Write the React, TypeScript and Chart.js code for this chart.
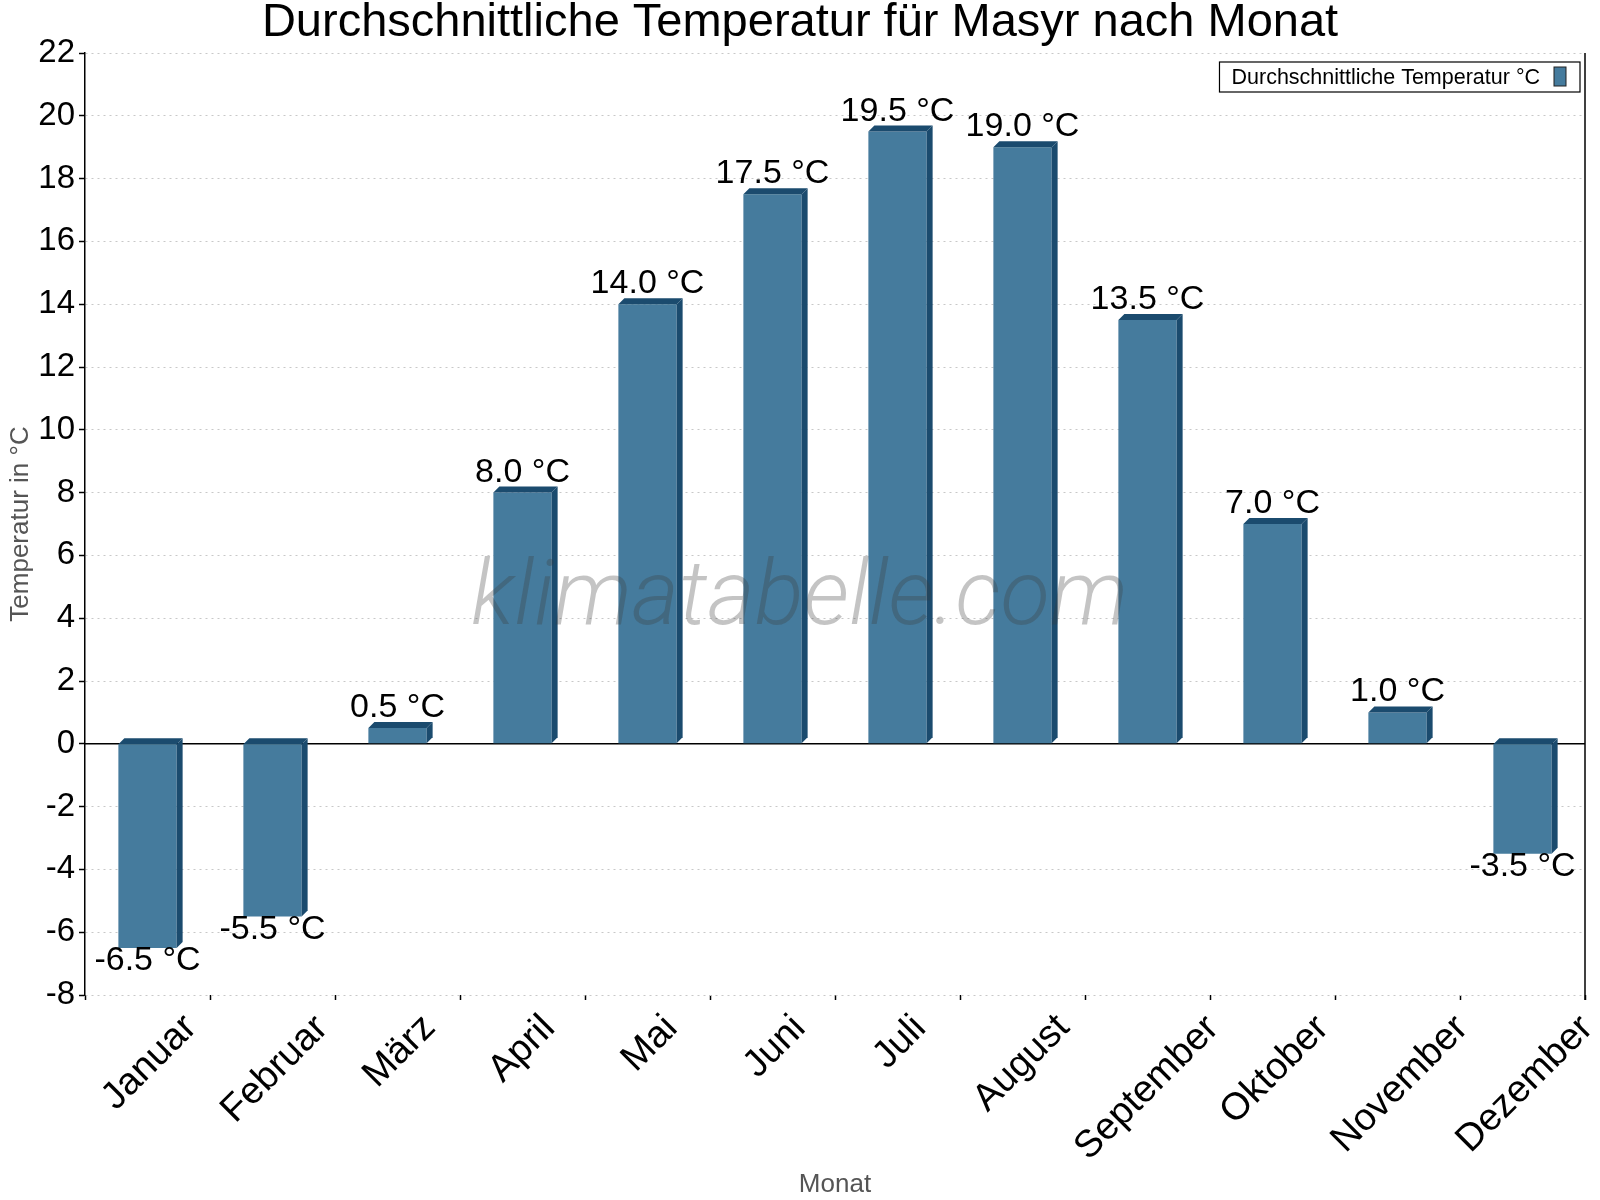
import { useEffect, useRef } from "react";
import { Chart, registerables } from "chart.js";
import type { ChartConfiguration, Plugin } from "chart.js";

Chart.register(...registerables);

const FONT = "'Liberation Sans', Arial, sans-serif";

const months = [
  "Januar",
  "Februar",
  "März",
  "April",
  "Mai",
  "Juni",
  "Juli",
  "August",
  "September",
  "Oktober",
  "November",
  "Dezember",
];
const temperatures = [-6.5, -5.5, 0.5, 8.0, 14.0, 17.5, 19.5, 19.0, 13.5, 7.0, 1.0, -3.5];
const yMin = -8;
const yMax = 22;
const yStep = 2;

const seriesLabel = "Durchschnittliche Temperatur °C";
const frontColor = "#457b9d";
const darkColor = "#1b4b6e";

// 3D bar sides, zero line, value labels, month labels, legend box, watermark
const decorations: Plugin<"bar"> = {
  id: "decorations",
  beforeDatasetsDraw(chart) {
    const { ctx, chartArea, scales } = chart;
    const y0 = scales.y.getPixelForValue(0);
    ctx.save();
    ctx.strokeStyle = "#000";
    ctx.lineWidth = 1.5;
    ctx.beginPath();
    ctx.moveTo(chartArea.left, y0);
    ctx.lineTo(chartArea.right, y0);
    ctx.stroke();
    // right frame line
    ctx.beginPath();
    ctx.moveTo(chartArea.right, chartArea.top);
    ctx.lineTo(chartArea.right, chartArea.bottom + 5);
    ctx.stroke();
    ctx.restore();
  },
  afterDatasetsDraw(chart) {
    const { ctx, chartArea, scales } = chart;
    const meta = chart.getDatasetMeta(0);
    const d = 6;
    ctx.save();
    meta.data.forEach((el, i) => {
      const { x, y, base, width } = el.getProps(["x", "y", "base", "width"], true) as any;
      const left = x - width / 2;
      const right = x + width / 2;
      const top = Math.min(y, base);
      const bottom = Math.max(y, base);
      ctx.fillStyle = darkColor;
      ctx.beginPath();
      ctx.moveTo(right, top);
      ctx.lineTo(right + d, top - d);
      ctx.lineTo(right + d, bottom - d);
      ctx.lineTo(right, bottom);
      ctx.closePath();
      ctx.fill();
      ctx.beginPath();
      ctx.moveTo(left, top);
      ctx.lineTo(left + d, top - d);
      ctx.lineTo(right + d, top - d);
      ctx.lineTo(right, top);
      ctx.closePath();
      ctx.fill();

      const v = temperatures[i];
      ctx.fillStyle = "#000";
      ctx.font = `34px ${FONT}`;
      ctx.textAlign = "center";
      if (v >= 0) {
        ctx.textBaseline = "alphabetic";
        ctx.fillText(`${v.toFixed(1)} °C`, x, y - 11);
      } else {
        ctx.textBaseline = "top";
        ctx.fillText(`${v.toFixed(1)} °C`, x, y - 4);
      }
    });

    // month labels, rotated 45°, box centred under each category
    ctx.font = `38px ${FONT}`;
    ctx.fillStyle = "#000";
    ctx.textAlign = "center";
    ctx.textBaseline = "alphabetic";
    const s = Math.SQRT1_2;
    months.forEach((m, i) => {
      const cx = scales.x.getPixelForTick(i);
      const mt = ctx.measureText(m);
      const a = mt.actualBoundingBoxAscent;
      const de = mt.actualBoundingBoxDescent;
      const w = mt.width;
      const topInk = chartArea.bottom + 15;
      const cy = topInk + (s * (w + a + de)) / 2;
      const off = (de - a) / 2;
      ctx.save();
      ctx.translate(cx - off * s, cy - off * s);
      ctx.rotate(-Math.PI / 4);
      ctx.fillText(m, 0, 0);
      ctx.restore();
    });

    // legend
    ctx.font = `21.5px ${FONT}`;
    const tw = ctx.measureText(seriesLabel).width;
    const boxW = 12 + tw + 14 + 12 + 14;
    const boxH = 30;
    const bx = chartArea.right - 5 - boxW;
    const by = chartArea.top + 9;
    ctx.fillStyle = "#fff";
    ctx.fillRect(bx, by, boxW, boxH);
    ctx.strokeStyle = "#000";
    ctx.lineWidth = 1.2;
    ctx.strokeRect(bx, by, boxW, boxH);
    ctx.fillStyle = "#000";
    ctx.textAlign = "left";
    ctx.textBaseline = "middle";
    ctx.fillText(seriesLabel, bx + 12, by + boxH / 2 + 1);
    const sx = bx + 12 + tw + 14;
    ctx.fillStyle = frontColor;
    ctx.fillRect(sx, by + 5, 12, 19);
    ctx.strokeStyle = "#222";
    ctx.lineWidth = 1;
    ctx.strokeRect(sx, by + 5, 12, 19);

    // watermark
    ctx.font = `italic 300 91px Roboto, ${FONT}`;
    ctx.fillStyle = "rgba(60,60,60,0.3)";
    ctx.textAlign = "left";
    ctx.textBaseline = "alphabetic";
    const wm = "klimatabelle.com";
    const ww = ctx.measureText(wm).width;
    ctx.translate(471, 624);
    ctx.scale(657 / ww, 1);
    ctx.fillText(wm, 0, 0);
    ctx.restore();
  },
};

export default function App() {
  const canvasRef = useRef<HTMLCanvasElement>(null);

  useEffect(() => {
    document.body.style.margin = "0";
    if (!canvasRef.current) return;

    const config: ChartConfiguration<"bar"> = {
      type: "bar",
      data: {
        labels: months,
        datasets: [
          {
            label: seriesLabel,
            data: temperatures,
            backgroundColor: frontColor,
            borderWidth: 0,
            barPercentage: 0.466,
            categoryPercentage: 1,
          },
        ],
      },
      options: {
        responsive: false,
        devicePixelRatio: 1,
        animation: false,
        layout: { padding: 0 },
        plugins: {
          legend: { display: false },
          tooltip: { enabled: false },
          title: {
            display: true,
            text: "Durchschnittliche Temperatur für Masyr nach Monat",
            color: "#000",
            font: { family: FONT, size: 47, weight: "normal", lineHeight: 1 },
            padding: { top: 0, bottom: 6 },
          },
        },
        scales: {
          x: {
            offset: true,
            grid: {
              offset: true,
              drawOnChartArea: false,
              drawTicks: true,
              tickLength: 5,
              tickColor: "#000",
              tickWidth: 1.5,
            },
            border: { display: false },
            ticks: { display: false, autoSkip: false },
            title: {
              display: true,
              text: "Monat",
              color: "#555",
              font: { family: FONT, size: 26 },
              padding: { top: 0, bottom: 0 },
            },
            afterFit: (s) => {
              s.height = 205;
            },
          },
          y: {
            min: yMin,
            max: yMax,
            ticks: {
              stepSize: yStep,
              color: "#000",
              font: { family: FONT, size: 33 },
              padding: 4,
            },
            grid: {
              color: "#c8c8c8",
              lineWidth: 1,
              tickColor: "#000",
              tickLength: 6,
              tickWidth: 1.5,
            },
            border: { display: true, color: "#000", width: 1.5, dash: [2, 4] },
            title: {
              display: true,
              text: "Temperatur in °C",
              color: "#555",
              font: { family: FONT, size: 26 },
              padding: { top: 5, bottom: 0 },
            },
            afterFit: (s) => {
              s.width = 85;
            },
          },
          yRight: {
            axis: "y",
            type: "linear",
            position: "right",
            display: true,
            grid: { display: false },
            ticks: { display: false },
            border: { display: false },
            afterFit: (s) => {
              s.width = 15;
            },
          },
        },
      },
      plugins: [decorations],
    };

    const chart = new Chart(canvasRef.current, config);
    return () => chart.destroy();
  }, []);

  return (
    <div style={{ width: 1600, height: 1200, background: "#fff" }}>
      <canvas ref={canvasRef} width={1600} height={1200} />
    </div>
  );
}
